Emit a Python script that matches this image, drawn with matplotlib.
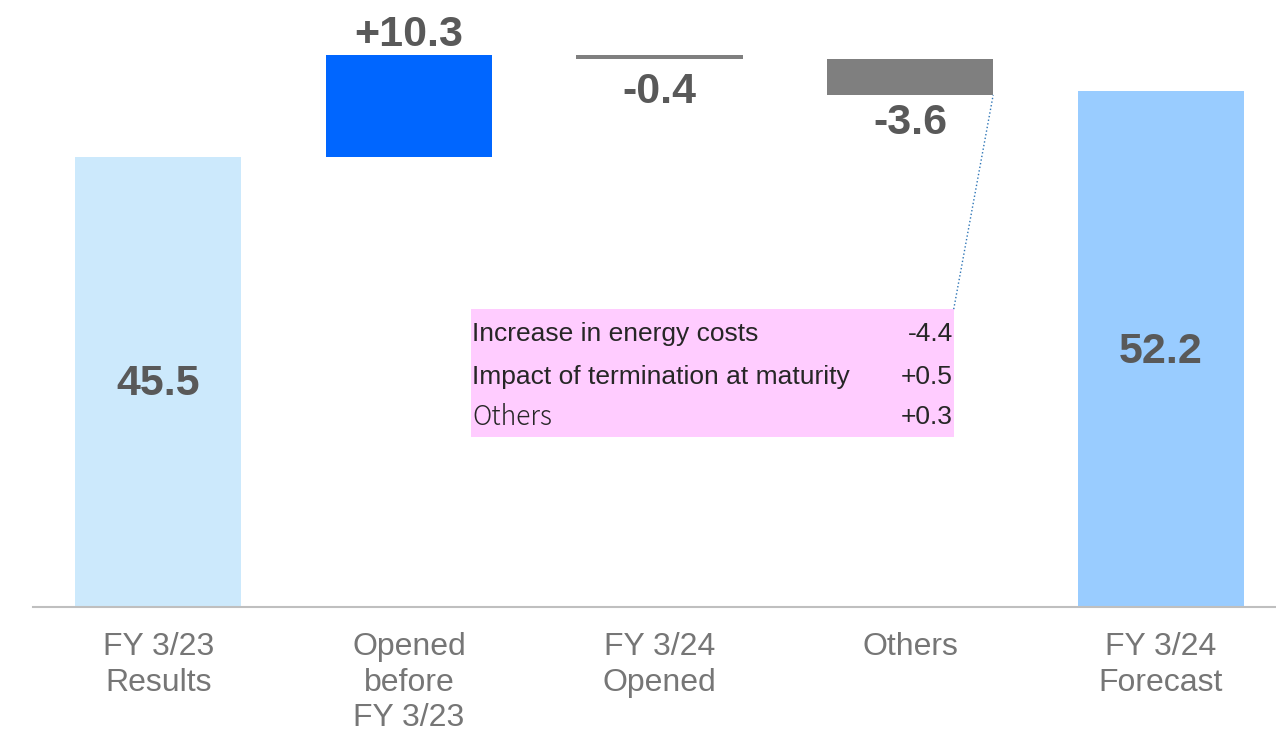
import numpy as np
import matplotlib
matplotlib.use("Agg")
import matplotlib.pyplot as plt
from matplotlib.patches import Rectangle

plt.rcParams['font.family'] = ['Liberation Sans', 'DejaVu Sans']

# data
categories = ["FY 3/23\nResults", "Opened\nbefore\nFY 3/23", "FY 3/24\nOpened",
              "Others", "FY 3/24\nForecast"]
start_value = 45.5
changes = [10.3, -0.4, -3.6]
end_value = 52.2
change_labels = ["+10.3", "-0.4", "-3.6"]
colors = ["#CCE9FC", "#0066FF", "#7F7F7F", "#7F7F7F", "#99CCFF"]

detail_items = ["Increase in energy costs", "Impact of termination at maturity", "Others"]
detail_values = ["-4.4", "+0.5", "+0.3"]

# waterfall geometry
bottoms = [0]
heights = [start_value]
level = start_value
for c in changes:
    bottoms.append(level + min(c, 0))
    heights.append(abs(c))
    level += c
bottoms.append(0)
heights.append(end_value)

fig = plt.figure(figsize=(12.76, 7.33), dpi=100)
ax = fig.add_axes([33 / 1276, 126 / 733, 1 - 33 / 1276, 607 / 733])
x = np.arange(len(categories))
ax.bar(x, heights, bottom=bottoms, width=0.663, color=colors, zorder=2)

ax.set_xlim(-0.5, 4.46)
ax.set_ylim(0, 61.4)
for s in ['top', 'left', 'right']:
    ax.spines[s].set_visible(False)
ax.spines['bottom'].set_color('#BFBFBF')
ax.spines['bottom'].set_linewidth(1.5)
ax.set_yticks([])
ax.set_xticks(x)
ax.set_xticklabels(categories, fontsize=23, color='#767676', linespacing=1.25,
                   va='top', ha='center')
ax.tick_params(axis='x', length=0, pad=18)

lab = dict(fontsize=31, fontweight='bold', color='#595959', ha='center', va='center')
# totals in the middle of the bars
ax.text(0, start_value / 2 - 0.2, "%.1f" % start_value, **lab)
ax.text(4, end_value / 2 - 0.3, "%.1f" % end_value, **lab)
# change labels
ax.text(1, bottoms[1] + heights[1] + 2.1, change_labels[0], **lab)
ax.text(2, bottoms[2] - 3.3, change_labels[1], **lab)
ax.text(3, bottoms[3] - 2.8, change_labels[2], **lab)

# breakdown box for "Others"
bx0, bx1 = 1.249, 3.174
by0, by1 = 17.19, 30.13
ax.add_patch(Rectangle((bx0, by0), bx1 - bx0, by1 - by0, facecolor='#FFCCFF',
                       edgecolor='none', zorder=1))
row_y = [27.6, 23.3, 19.2]
for i, (name, val) in enumerate(zip(detail_items, detail_values)):
    fam = ['Liberation Sans'] if i < 2 else ['Noto Sans CJK JP', 'DejaVu Sans']
    ax.text(bx0 + 0.004, row_y[i], name, fontsize=19, color='#262626',
            ha='left', va='center', family=fam, fontweight='normal' if i < 2 else 'light')
    ax.text(bx1 - 0.004, row_y[i], val, fontsize=19, color='#262626',
            ha='right', va='center')

# dotted leader line
ax.plot([bx1, 3 + 0.663 / 2], [by1, bottoms[3]], linestyle=':', color='#2E75B6',
        linewidth=1, zorder=3)

fig.savefig("out.png", dpi=100)
